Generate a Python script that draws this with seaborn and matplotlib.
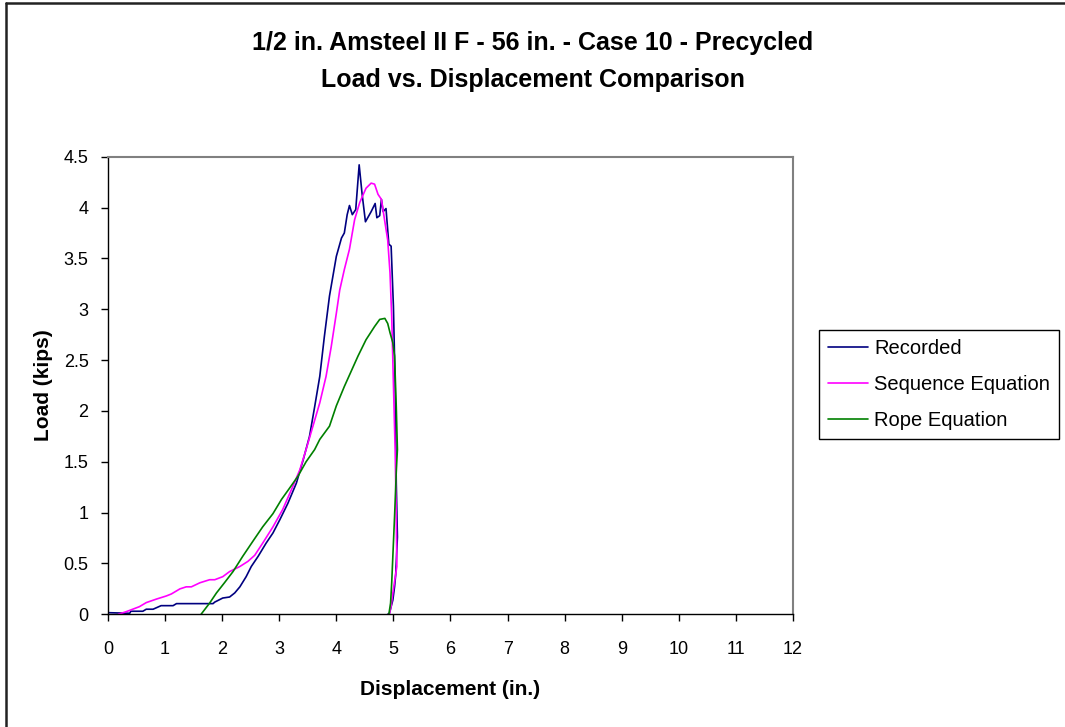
import seaborn as sns
import matplotlib.pyplot as plt
import pandas as pd
from matplotlib.lines import Line2D
from matplotlib.ticker import FuncFormatter, MultipleLocator

# (displacement in in., load in kips)
rec_x = [0.00, 0.38, 0.40, 0.61, 0.67, 0.79, 0.93, 1.14, 1.20, 1.84, 1.87, 2.01,
         2.13, 2.22, 2.31, 2.42, 2.51, 2.63, 2.77, 2.89, 3.01, 3.15, 3.30, 3.42,
         3.53, 3.62, 3.71, 3.79, 3.88, 4.00, 4.09, 4.14, 4.19, 4.23, 4.28, 4.34,
         4.40, 4.45, 4.51, 4.61, 4.68, 4.71, 4.76, 4.79, 4.82, 4.87, 4.92, 4.96,
         5.00, 5.03, 5.05, 5.07, 5.04, 5.02, 4.99, 4.93, 4.90]
rec_y = [0.016, 0.01, 0.03, 0.03, 0.05, 0.05, 0.085, 0.085, 0.105, 0.105, 0.12, 0.16,
         0.17, 0.21, 0.27, 0.37, 0.47, 0.57, 0.70, 0.80, 0.93, 1.09, 1.29, 1.52,
         1.75, 2.04, 2.34, 2.73, 3.13, 3.52, 3.70, 3.75, 3.93, 4.02, 3.93, 3.98,
         4.42, 4.14, 3.86, 3.96, 4.04, 3.90, 3.92, 4.08, 3.96, 3.99, 3.64, 3.62,
         3.03, 2.27, 1.29, 0.76, 0.39, 0.27, 0.14, 0.01, 0.00]

seq_x = [0.18, 0.32, 0.55, 0.67, 0.85, 1.02, 1.11, 1.26, 1.37, 1.46, 1.61, 1.78,
         1.87, 2.01, 2.13, 2.31, 2.45, 2.57, 2.71, 2.89, 3.06, 3.24, 3.36, 3.47,
         3.59, 3.71, 3.82, 3.91, 4.00, 4.06, 4.14, 4.23, 4.32, 4.41, 4.52, 4.61,
         4.67, 4.73, 4.79, 4.85, 4.90, 4.94, 4.97, 5.00, 5.03, 5.05, 5.06, 4.99,
         4.96, 4.93]
seq_y = [0.0, 0.026, 0.075, 0.115, 0.15, 0.18, 0.20, 0.25, 0.27, 0.27, 0.31, 0.34,
         0.34, 0.37, 0.42, 0.47, 0.52, 0.58, 0.70, 0.86, 1.03, 1.26, 1.42, 1.62,
         1.85, 2.08, 2.34, 2.63, 2.96, 3.19, 3.39, 3.59, 3.88, 4.05, 4.19, 4.24,
         4.23, 4.13, 4.08, 3.86, 3.68, 3.36, 2.93, 2.27, 1.62, 0.96, 0.47, 0.21,
         0.08, 0.0]

rope_x = [1.63, 1.78, 1.90, 2.04, 2.19, 2.36, 2.54, 2.71, 2.89, 3.04, 3.18, 3.33,
          3.47, 3.62, 3.71, 3.88, 4.00, 4.14, 4.26, 4.38, 4.52, 4.67, 4.76, 4.85,
          4.90, 4.94, 4.99, 5.02, 5.05, 5.07, 5.05, 5.02, 4.99, 4.97, 4.95, 4.92]
rope_y = [0.0, 0.11, 0.21, 0.31, 0.42, 0.57, 0.72, 0.86, 0.99, 1.13, 1.24, 1.36,
          1.50, 1.62, 1.72, 1.85, 2.05, 2.24, 2.39, 2.54, 2.70, 2.83, 2.90, 2.91,
          2.86, 2.77, 2.67, 2.54, 2.04, 1.62, 1.40, 0.96, 0.57, 0.31, 0.11, 0.0]

series_names = ['Recorded', 'Sequence Equation', 'Rope Equation']
series_colors = ['#000080', '#FF00FF', '#008000']

df = pd.concat([
    pd.DataFrame({'disp': rec_x, 'load': rec_y, 'series': series_names[0]}),
    pd.DataFrame({'disp': seq_x, 'load': seq_y, 'series': series_names[1]}),
    pd.DataFrame({'disp': rope_x, 'load': rope_y, 'series': series_names[2]}),
], ignore_index=True)

sns.set_style('white')
plt.rcParams['font.family'] = ['Liberation Sans', 'DejaVu Sans']
plt.rcParams['text.color'] = 'black'
plt.rcParams['axes.labelcolor'] = 'black'
plt.rcParams['xtick.color'] = 'black'
plt.rcParams['ytick.color'] = 'black'

fig = plt.figure(figsize=(10.65, 7.27), dpi=100)
ax = fig.add_axes([108 / 1065, 1 - 614.3 / 727, (793 - 108) / 1065, (614.3 - 156.7) / 727])

sns.lineplot(data=df, x='disp', y='load', hue='series', sort=False, estimator=None,
             palette=dict(zip(series_names, series_colors)), linewidth=1.2,
             legend=False, ax=ax)

ax.set_xlim(0, 12)
ax.set_ylim(0, 4.5)
ax.xaxis.set_major_locator(MultipleLocator(1))
ax.yaxis.set_major_locator(MultipleLocator(0.5))
ax.yaxis.set_major_formatter(FuncFormatter(lambda v, p: '%g' % v))
ax.tick_params(axis='both', direction='out', length=5, width=1, color='black',
               labelsize=13, bottom=True, left=True)
ax.tick_params(axis='x', pad=14)
ax.tick_params(axis='y', pad=9)

for side in ['left', 'bottom']:
    ax.spines[side].set_color('black')
    ax.spines[side].set_linewidth(1)
for side in ['top', 'right']:
    ax.spines[side].set_color('#808080')
    ax.spines[side].set_linewidth(1.5)

ax.set_xlabel('Displacement (in.)', fontsize=15, fontweight='bold')
ax.set_ylabel('Load (kips)', fontsize=15, fontweight='bold')
ax.xaxis.set_label_coords(0.5, (614.3 - 680) / 457.6)
ax.yaxis.set_label_coords((53 - 108) / 685, 0.5)

fig.text(0.5, 1 - 43 / 727, '1/2 in. Amsteel II F - 56 in. - Case 10 - Precycled',
         ha='center', va='center', fontsize=18, fontweight='bold')
fig.text(0.5, 1 - 80 / 727, 'Load vs. Displacement Comparison',
         ha='center', va='center', fontsize=18, fontweight='bold')

handles = [Line2D([], [], color=c, linewidth=1.2) for c in series_colors]
leg = fig.legend(handles, series_names, loc='upper left',
                 bbox_to_anchor=(819 / 1065, 1 - 330 / 727), fontsize=14.5,
                 frameon=True, fancybox=False, edgecolor='black', framealpha=1,
                 handlelength=2.0, handletextpad=0.3, labelspacing=0.85,
                 borderpad=0.45, borderaxespad=0)
leg.get_frame().set_linewidth(1)

# outer chart border (left and top edges visible)
fig.add_artist(Line2D([5.5 / 1065, 5.5 / 1065], [0, 1 - 2.5 / 727], color='#222222',
                      linewidth=1.8, transform=fig.transFigure))
fig.add_artist(Line2D([5.5 / 1065, 1], [1 - 2.5 / 727, 1 - 2.5 / 727], color='#222222',
                      linewidth=1.8, transform=fig.transFigure))

plt.savefig('out.png', dpi=100)
